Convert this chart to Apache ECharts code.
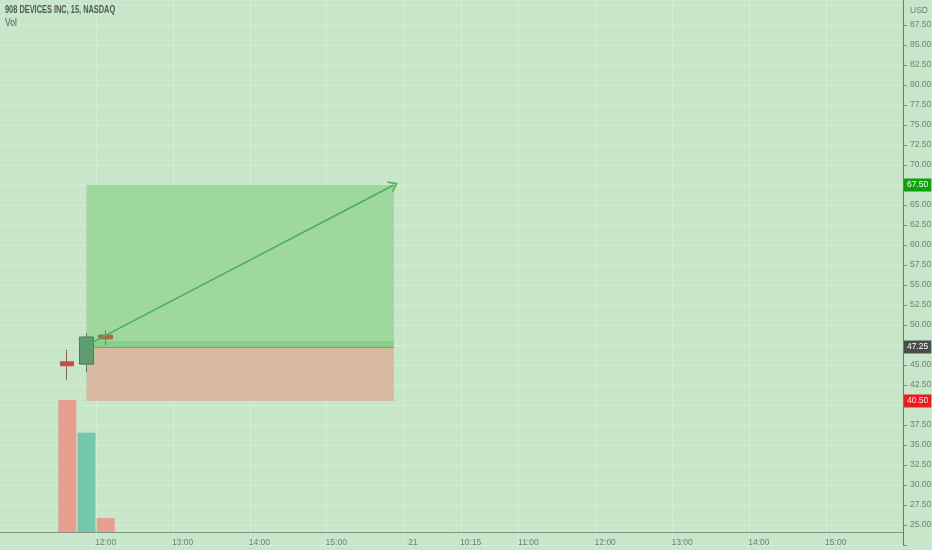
<!DOCTYPE html>
<html>
<head>
<meta charset="utf-8">
<style>html,body{margin:0;padding:0;background:#c8e6c9;}#c{width:932px;height:550px;}</style>
<script src="https://cdn.jsdelivr.net/npm/echarts@6/dist/echarts.min.js"></script>
</head>
<body>
<div id="c"></div>
<script>
// 15-minute bar slots (two sessions)
const categories = [
  '12-18 10:45','12-18 11:00','12-18 11:15','12-18 11:30','12-18 11:45','12-18 12:00','12-18 12:15',
  '12-18 12:30','12-18 12:45','12-18 13:00','12-18 13:15','12-18 13:30','12-18 13:45','12-18 14:00',
  '12-18 14:15','12-18 14:30','12-18 14:45','12-18 15:00','12-18 15:15','12-18 15:30','12-18 15:45',
  '12-21 09:30','12-21 09:45','12-21 10:00','12-21 10:15','12-21 10:30','12-21 10:45','12-21 11:00',
  '12-21 11:15','12-21 11:30','12-21 11:45','12-21 12:00','12-21 12:15','12-21 12:30','12-21 12:45',
  '12-21 13:00','12-21 13:15','12-21 13:30','12-21 13:45','12-21 14:00','12-21 14:15','12-21 14:30',
  '12-21 14:45','12-21 15:00','12-21 15:15','12-21 15:30','12-21 15:45'
];
const tickCategories = ['12-18 12:00','12-18 13:00','12-18 14:00','12-18 15:00','12-21 09:30','12-21 10:15',
  '12-21 11:00','12-21 12:00','12-21 13:00','12-21 14:00','12-21 15:00'];
const tickLabels = ['12:00','13:00','14:00','15:00','21','10:15','11:00','12:00','13:00','14:00','15:00'];

const candleTimes = ['12-18 11:30','12-18 11:45','12-18 12:00'];
const opens  = [45.40, 45.10, 48.75];
const closes = [44.90, 48.50, 48.25];
const lows   = [43.10, 44.10, 47.50];
const highs  = [46.90, 49.00, 49.40];
const volumes = [990000, 745000, 105000];

// long position tool
const entryPrice = 47.25, targetPrice = 67.50, stopPrice = 40.50;
const positionStart = '12-18 11:45', positionEnd = '12-18 15:45';

const candleColors = [
  {color:'#d8453a', borderColor:'#9c6058'},
  {color:'#5f9d70', borderColor:'#4d7a5a'},
  {color:'#b8652f', borderColor:'#8a7a55'}
];
const volColors = ['#e69e8f', '#72c8ab', '#e69e8f'];

const candleData = categories.map(() => '-');
const volData = categories.map(() => '-');
candleTimes.forEach((t, i) => {
  const k = categories.indexOf(t);
  candleData[k] = {value: [opens[i], closes[i], lows[i], highs[i]], itemStyle: candleColors[i]};
  volData[k] = {value: volumes[i], itemStyle: {color: volColors[i]}};
});
const isTick = (idx) => tickCategories.indexOf(categories[idx]) >= 0;

const FONT = "'Liberation Sans', Arial, sans-serif";
const FS = 8.5;
const hidden = {color: 'rgba(0,0,0,0)', width: 0};
const chart = echarts.init(document.getElementById('c'), null, {renderer: 'canvas'});
chart.setOption({
  animation: false,
  backgroundColor: '#c8e6c9',
  textStyle: {fontFamily: FONT},
  grid: {left: 0, right: 29, top: -15, height: 560, containLabel: false, outerBoundsMode: 'none'},
  xAxis: {
    type: 'category', data: categories, boundaryGap: true, offset: -13,
    axisLine: {lineStyle: {color: '#7f9483', width: 1}},
    axisTick: {alignWithLabel: true, interval: (i) => isTick(i), length: 3, lineStyle: {color: '#7f9483'}},
    axisLabel: {interval: (i) => isTick(i), margin: 6, color: '#6f7f72', fontSize: FS, fontFamily: FONT,
      formatter: (v) => { const k = tickCategories.indexOf(v); return k >= 0 ? tickLabels[k] : ''; }},
    splitLine: {show: true, interval: (i) => isTick(i), lineStyle: {color: '#d5eed6', width: 1}}
  },
  yAxis: [{
    type: 'value', position: 'right', min: 22.5, max: 92.5, interval: 2.5,
    axisLine: {show: true, lineStyle: {color: '#6b786d'}},
    axisTick: {show: true, length: 4, lineStyle: {color: '#7f8c81'}},
    axisLabel: {margin: 7, color: '#6f7f72', fontSize: FS, fontFamily: FONT,
      formatter: (v) => v < 24 ? '' : v.toFixed(2)},
    splitLine: {show: true, lineStyle: {color: '#d5eed6', width: 1}}
  }, {
    type: 'value', min: -97500, max: 4102500, show: false,
    axisLine: {show: false}, axisLabel: {show: false}, splitLine: {show: false}
  }],
  series: [
    {
      type: 'bar', yAxisIndex: 1, data: volData, barWidth: 18, z: 1
    },
    {
      type: 'line', data: [], z: 2, silent: true, clip: false,
      markArea: {
        silent: true,
        data: [
          [{xAxis: positionStart, yAxis: targetPrice, itemStyle: {color: '#9fd89f'}}, {xAxis: positionEnd, yAxis: entryPrice}],
          [{xAxis: positionStart, yAxis: entryPrice + 0.75, itemStyle: {color: '#86ce89'}}, {xAxis: positionEnd, yAxis: entryPrice}],
          [{xAxis: positionStart, yAxis: entryPrice, itemStyle: {color: '#d8baa3'}}, {xAxis: positionEnd, yAxis: stopPrice}]
        ]
      }
    },
    {
      type: 'candlestick', data: candleData, barWidth: 14, z: 3, clip: false,
      markLine: {
        silent: true, symbol: 'none',
        lineStyle: hidden,
        label: {show: true, position: 'end', distance: 1, color: '#fff', fontSize: FS, fontFamily: FONT,
          padding: [2, 3, 2, 3], formatter: (p) => p.value.toFixed(2)},
        data: [
          {yAxis: targetPrice, lineStyle: hidden, label: {backgroundColor: '#0ea10e'}},
          {yAxis: entryPrice, lineStyle: hidden, label: {backgroundColor: '#4a4d4a'}},
          {yAxis: stopPrice, lineStyle: hidden, label: {backgroundColor: '#f21a1a'}}
        ]
      }
    },
    {
      type: 'line', data: [], z: 4, silent: true,
      markLine: {
        silent: true, animation: false,
        label: {show: false},
        data: [
          [{xAxis: positionStart, yAxis: entryPrice, symbol: 'none', lineStyle: {color: '#5cb865', width: 1.2, type: 'solid'}},
           {xAxis: positionEnd, yAxis: entryPrice, symbol: 'none'}],
          [{xAxis: positionStart, yAxis: entryPrice + 0.2, symbol: 'none', lineStyle: {color: '#4caf50', width: 1.6, type: 'solid'}},
           {xAxis: positionEnd, yAxis: targetPrice, symbol: 'path://M0,20 L10,0 L20,20 L17,20 L10,6 L3,20 Z', symbolSize: [13, 9]}]
        ]
      }
    }
  ],
  graphic: [
    {type: 'rect', left: 904, top: 1, shape: {width: 28, height: 16}, style: {fill: '#c8e6c9'}, z: 100},
    {type: 'text', left: 910, top: 6, style: {text: 'USD', fill: '#6f7f72', font: '8.5px ' + FONT}, z: 101},
    {type: 'text', x: 5, y: 5, scaleX: 0.74, style: {text: '908 DEVICES INC, 15, NASDAQ', fill: '#4e5a50', font: 'bold 10px ' + FONT}, z: 101},
    {type: 'text', x: 5, y: 18, scaleX: 0.85, style: {text: 'Vol', fill: '#4e5a50', font: '10px ' + FONT}, z: 101}
  ]
});
</script>
</body>
</html>
